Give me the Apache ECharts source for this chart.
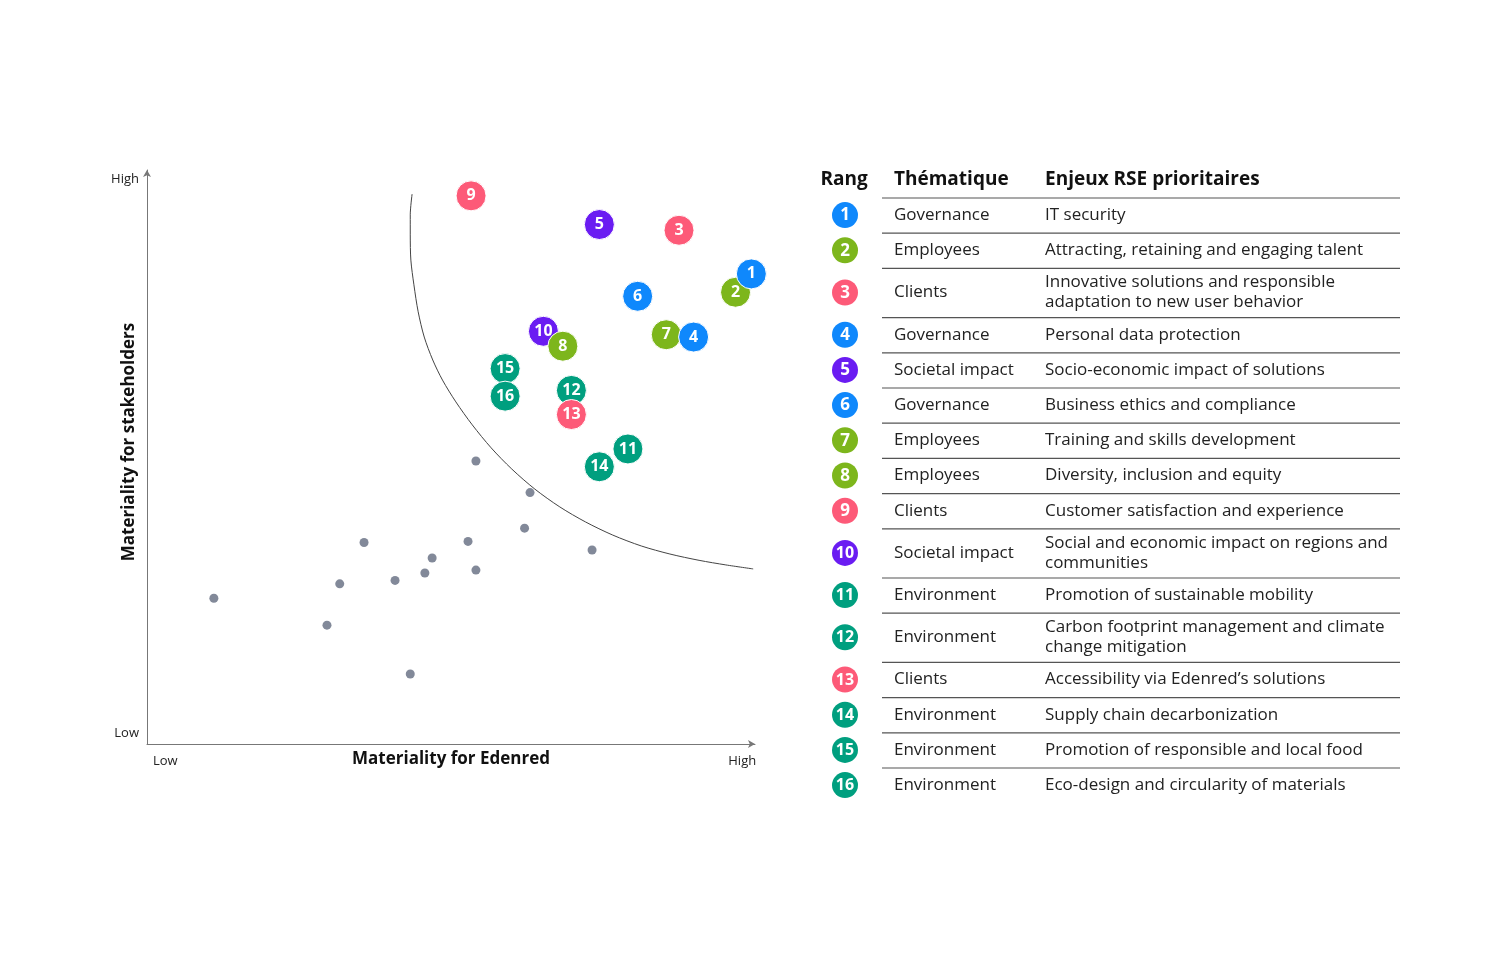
<!DOCTYPE html>
<html><head><meta charset="utf-8">
<script src="https://cdn.jsdelivr.net/npm/echarts@6/dist/echarts.min.js"></script>
<style>html,body{margin:0;padding:0;background:#fff}#c{width:1500px;height:960px}</style>
</head><body><div id="c"></div>
<script>
// ---- data ----
const ranks = [1,2,3,4,5,6,7,8,9,10,11,12,13,14,15,16];
const themes = ['Governance','Employees','Clients','Governance','Societal impact','Governance','Employees','Employees','Clients','Societal impact','Environment','Environment','Clients','Environment','Environment','Environment'];
const issues = [
  'IT security',
  'Attracting, retaining and engaging talent',
  'Innovative solutions and responsible\nadaptation to new user behavior',
  'Personal data protection',
  'Socio-economic impact of solutions',
  'Business ethics and compliance',
  'Training and skills development',
  'Diversity, inclusion and equity',
  'Customer satisfaction and experience',
  'Social and economic impact on regions and\ncommunities',
  'Promotion of sustainable mobility',
  'Carbon footprint management and climate\nchange mitigation',
  'Accessibility via Edenred\u2019s solutions',
  'Supply chain decarbonization',
  'Promotion of responsible and local food',
  'Eco-design and circularity of materials'
];
// materiality for Edenred (x) and for stakeholders (y), 0-100 scale
const rankX = [99.4,96.8,87.5,89.9,74.4,80.7,85.4,68.4,53.3,65.2,79.1,69.8,69.8,74.4,58.9,58.9];
const rankY = [81.9,78.7,89.5,70.9,90.5,78.0,71.3,69.3,95.5,71.9,51.4,61.6,57.4,48.3,65.4,60.6];
const drawOrder = [9,5,3,6,2,1,10,8,15,16,12,13,7,4,14,11];
// non-priority issues
const otherX = [54.1,63.0,62.1,52.8,46.9,45.7,54.1,73.2,35.7,31.7,40.8,11.0,29.6,43.3];
const otherY = [49.3,43.8,37.6,35.3,32.4,29.8,30.3,33.8,35.1,27.9,28.5,25.4,20.7,12.2];
// materiality threshold curve
const curveX = [43.6,43.3,43.3,43.4,43.9,44.6,45.6,47.0,48.6,50.8,53.5,56.6,60.0,63.8,67.9,72.1,76.6,81.3,86.0,90.8,95.2,99.7];
const curveY = [95.8,92.2,88.7,84.3,80.0,75.3,70.9,66.9,63.4,59.6,55.6,51.6,47.9,44.4,41.3,38.7,36.4,34.5,33.1,32.0,31.2,30.5];
// axis tick labels
const xTickValues = [3.0, 97.9];
const xTickLabels = ['Low','High'];
const yTickValues = [1.9, 98.4];
const yTickLabels = ['Low','High'];
const headers = ['Rang','Th\u00e9matique','Enjeux RSE prioritaires'];
const themeColors = {
  'Governance':'#0f88fc',
  'Employees':'#7db61c',
  'Clients':'#fd5a78',
  'Societal impact':'#6a1cf2',
  'Environment':'#009f7f'
};

// ---- build ----
const FONT = '"Open Sans", "Noto Sans", sans-serif';
const bubbleData = drawOrder.map(r => {
  const i = r - 1;
  return {value:[rankX[i], rankY[i], r], itemStyle:{color: themeColors[themes[i]]}};
});
const otherData = otherX.map((x,i) => [x, otherY[i]]);
const curveData = curveX.map((x,i) => [x, curveY[i]]);

// table graphics
const g = [];
const tblLeft = 882, tblRight = 1400, colRank = 845, colTheme = 894, colIssue = 1045;
const hdrStyle = {verticalAlign:'middle', fontFamily:FONT, fontSize:19, fontWeight:'bold', fill:'#111'};
g.push({type:'text', style:Object.assign({text:headers[0], x:844, y:180, align:'center'}, hdrStyle)});
g.push({type:'text', style:Object.assign({text:headers[1], x:colTheme, y:180, align:'left'}, hdrStyle)});
g.push({type:'text', style:Object.assign({text:headers[2], x:colIssue, y:180, align:'left'}, hdrStyle)});
let yTop = 198;
g.push({type:'line', shape:{x1:tblLeft, y1:yTop, x2:tblRight, y2:yTop}, style:{stroke:'#555', lineWidth:1.2}});
ranks.forEach((r,i) => {
  const two = issues[i].indexOf('\n') >= 0;
  const h = two ? 49.2 : 35.2;
  const cy = yTop + h/2 - 0.5;
  const col = themeColors[themes[i]];
  g.push({type:'circle', shape:{cx:colRank, cy:cy, r:13}, style:{fill:col}});
  g.push({type:'text', style:{text:String(r), x:colRank, y:cy+0.5, align:'center', verticalAlign:'middle', fontFamily:FONT, fontSize:r>=10?16:17, fontWeight:'bold', fill:'#fff'}});
  g.push({type:'text', style:{text:themes[i], x:colTheme, y:cy, align:'left', verticalAlign:'middle', fontFamily:FONT, fontSize:17, fill:'#222'}});
  g.push({type:'text', style:{text:issues[i], x:colIssue, y:cy, align:'left', verticalAlign:'middle', fontFamily:FONT, fontSize:17, lineHeight:20, fill:'#222'}});
  yTop += h;
  if (i < ranks.length - 1) {
    g.push({type:'line', shape:{x1:tblLeft, y1:yTop, x2:tblRight, y2:yTop}, style:{stroke:'#555', lineWidth:1.2}});
  }
});

const chart = echarts.init(document.getElementById('c'), null, {renderer:'canvas'});
chart.setOption({
  backgroundColor:'#fff',
  animation:false,
  textStyle:{fontFamily:FONT},
  grid:{left:147, top:170, width:608, height:574, containLabel:false, outerBoundsMode:'none'},
  xAxis:{
    type:'value', min:0, max:100,
    name:'Materiality for Edenred', nameLocation:'middle', nameGap:7, nameMoveOverlap:false,
    nameTextStyle:{fontFamily:FONT, fontSize:17, fontWeight:'bold', color:'#111'},
    axisLine:{show:true, symbol:['none','arrow'], symbolSize:[6,7], lineStyle:{color:'#777', width:1}},
    axisTick:{show:false},
    splitLine:{show:false},
    axisLabel:{customValues:xTickValues, margin:11, fontFamily:FONT, fontSize:13, color:'#222',
      formatter:v => { const k = xTickValues.findIndex(t => Math.abs(t-v)<1e-6); return k>=0 ? xTickLabels[k] : ''; }}
  },
  yAxis:{
    type:'value', min:0, max:100,
    name:'Materiality for stakeholders', nameLocation:'middle', nameRotate:90, nameGap:9, nameMoveOverlap:false,
    nameTextStyle:{fontFamily:FONT, fontSize:17, fontWeight:'bold', color:'#111', padding:[0,0,0,30]},
    axisLine:{show:true, symbol:['none','arrow'], symbolSize:[6,7], lineStyle:{color:'#777', width:1}},
    axisTick:{show:false},
    splitLine:{show:false},
    axisLabel:{customValues:yTickValues, margin:8, fontFamily:FONT, fontSize:13, color:'#222',
      formatter:v => { const k = yTickValues.findIndex(t => Math.abs(t-v)<1e-6); return k>=0 ? yTickLabels[k] : ''; }}
  },
  series:[
    {type:'line', data:curveData, smooth:0.3, showSymbol:false, symbol:'none', silent:true,
      lineStyle:{color:'#444', width:1}, z:1},
    {type:'scatter', data:otherData, symbolSize:9, itemStyle:{color:'#636b80'}, z:2},
    {type:'scatter', data:bubbleData, symbolSize:30, z:3,
      itemStyle:{borderColor:'#fff', borderWidth:1, opacity:1},
      label:{show:true, position:'inside', formatter:p => String(p.value[2]),
        fontFamily:FONT, fontSize:16, fontWeight:'bold', color:'#fff'}}
  ],
  graphic:g
});
</script></body></html>
